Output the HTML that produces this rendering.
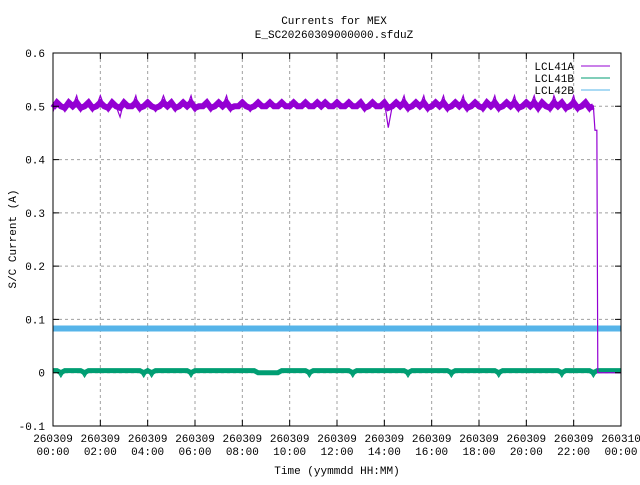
<!DOCTYPE html>
<html><head><meta charset="utf-8"><style>
body{margin:0;background:#fff}
svg text{font-family:"Liberation Mono","DejaVu Sans Mono",monospace;font-size:11px;fill:#000}
</style></head><body>
<svg id="c" width="640" height="480" xmlns="http://www.w3.org/2000/svg">
<rect width="640" height="480" fill="#fff"/>
<text x="334" y="24" text-anchor="middle">Currents for MEX</text>
<text x="334" y="38" text-anchor="middle">E_SC20260309000000.sfduZ</text>
<text x="0" y="0" transform="translate(16,239) rotate(-90)" text-anchor="middle">S/C Current (A)</text>
<text x="337" y="474" text-anchor="middle">Time (yymmdd HH:MM)</text>
<g id="grid"></g><g id="series"></g><g id="axes"></g>
<g>
<text x="574" y="70" text-anchor="end">LCL41A</text>
<line x1="581" y1="66" x2="610" y2="66" stroke="#9400d3"/>
<text x="574" y="82" text-anchor="end">LCL41B</text>
<line x1="581" y1="78" x2="610" y2="78" stroke="#009e73"/>
<text x="574" y="94" text-anchor="end">LCL42B</text>
<line x1="581" y1="90" x2="610" y2="90" stroke="#56b4e9"/>
</g>
</svg>
<script>
const yTicks=[-0.1,0,0.1,0.2,0.3,0.4,0.5,0.6];
const yTickLabels=["-0.1","0","0.1","0.2","0.3","0.4","0.5","0.6"];
const xTicks=[0,2,4,6,8,10,12,14,16,18,20,22,24];
const xTickLabels1=["260309","260309","260309","260309","260309","260309","260309","260309","260309","260309","260309","260309","260310"];
const xTickLabels2=["00:00","02:00","04:00","06:00","08:00","10:00","12:00","14:00","16:00","18:00","20:00","22:00","00:00"];
// LCL41A sampled every 10 minutes, 00:00 - 23:00
const lcl41a=[0.49,0.51,0.50,0.49,0.51,0.50,0.52,0.49,0.50,0.51,0.49,0.50,0.52,0.50,0.49,0.51,0.50,0.48,0.51,0.50,0.50,0.52,0.49,0.50,
0.51,0.50,0.49,0.50,0.52,0.50,0.51,0.49,0.50,0.51,0.50,0.52,0.49,0.50,0.50,0.51,0.49,0.50,0.51,0.50,0.52,0.49,0.50,0.50,
0.51,0.50,0.49,0.50,0.51,0.50,0.50,0.51,0.50,0.50,0.51,0.50,0.50,0.51,0.50,0.50,0.51,0.50,0.50,0.51,0.50,0.51,0.50,0.50,
0.51,0.50,0.50,0.51,0.50,0.50,0.51,0.49,0.50,0.51,0.50,0.50,0.51,0.46,0.50,0.51,0.50,0.52,0.49,0.50,0.51,0.50,0.52,0.49,
0.50,0.51,0.50,0.52,0.49,0.50,0.51,0.50,0.52,0.49,0.50,0.51,0.50,0.49,0.51,0.50,0.52,0.49,0.50,0.51,0.50,0.52,0.49,0.50,
0.51,0.50,0.52,0.49,0.51,0.50,0.49,0.52,0.50,0.51,0.49,0.50,0.52,0.49,0.50,0.51,0.49,0.50,0.455,0.455,0.0];
const lcl41aTimes=lcl41a.map((v,i)=>i<138?i/6:(i===138?22.9:(i===139?22.98:23.02)));
const lcl41b=[0.004,0.004,-0.008,0.004,0.004,0.004,0.004,0.004,-0.008,0.004,0.004,0.004,0.004,0.004,0.004,0.004,0.004,0.004,0.004,0.004,0.004,0.004,0.004,-0.008,
0.004,-0.008,0.004,0.004,0.004,0.004,0.004,0.004,0.004,0.004,0.004,-0.008,0.004,0.004,0.004,0.004,0.004,0.004,0.004,0.004,0.004,0.004,0.004,0.004,
0.004,0.004,0.004,0.004,0.0,0.0,0.0,0.0,0.0,0.0,0.004,0.004,0.004,0.004,0.004,0.004,0.004,-0.008,0.004,0.004,0.004,0.004,0.004,0.004,
0.004,0.004,0.004,0.004,-0.008,0.004,0.004,0.004,0.004,0.004,0.004,0.004,0.004,0.004,0.004,0.004,0.004,0.004,-0.008,0.004,0.004,0.004,0.004,0.004,
0.004,0.004,0.004,0.004,0.004,-0.008,0.004,0.004,0.004,0.004,0.004,0.004,0.004,0.004,0.004,0.004,0.004,-0.008,0.004,0.004,0.004,0.004,0.004,0.004,
0.004,0.004,0.004,0.004,0.004,0.004,0.004,0.004,0.004,-0.008,0.004,0.004,0.004,0.004,0.004,0.004,0.004,-0.008,0.004,0.004,0.004,0.004,0.004,0.004,0.004];
const lcl42b=[0.083,0.083,0.083,0.083,0.083,0.083,0.083,0.083,0.083,0.083,0.083,0.083,0.083];
const lcl42bTimes=[0,2,4,6,8,10,12,14,16,18,20,22,24];
const NS="http://www.w3.org/2000/svg";
const L=53,R=621,T=53,B=426;
const X=h=>L+(R-L)*h/24;
const Y=v=>B-(B-T)*(v+0.1)/0.7;
const clamp=(v,a,b)=>Math.max(a,Math.min(b,v));
function mk(tag,attrs,parent){const e=document.createElementNS(NS,tag);for(const k in attrs)e.setAttribute(k,attrs[k]);parent.appendChild(e);return e;}
const grid=document.getElementById('grid'),axes=document.getElementById('axes'),ser=document.getElementById('series');
yTicks.forEach((v,i)=>{
  if(i>0&&i<yTicks.length-1){const g=mk('line',{x1:L,x2:R,y1:Y(v),y2:Y(v),stroke:'#a0a0a0','stroke-dasharray':'3,3'},grid);
  
  }
  const tk=mk('path',{d:`M${L},${Y(v)}h6M${R},${Y(v)}h-6`,stroke:'#000'},axes);
  
  
  const t=mk('text',{x:L-8,y:Y(v)+4,'text-anchor':'end'},axes);t.textContent=yTickLabels[i];
  
  
});
xTicks.forEach((h,i)=>{
  if(i>0&&i<xTicks.length-1){const g=mk('line',{x1:X(h),x2:X(h),y1:T,y2:B,stroke:'#a0a0a0','stroke-dasharray':'3,3'},grid);
  
  }
  const tk=mk('path',{d:`M${X(h)},${B}v-6M${X(h)},${T}v6`,stroke:'#000'},axes);
  
  
  const t1=mk('text',{x:X(h),y:442,'text-anchor':'middle'},axes);t1.textContent=xTickLabels1[i];
  
  
  const t2=mk('text',{x:X(h),y:455,'text-anchor':'middle'},axes);t2.textContent=xTickLabels2[i];
  
  
});
const fr=mk('rect',{x:L,y:T,width:R-L,height:B-T,fill:'none',stroke:'#000'},axes);


const p42=mk('polyline',{points:lcl42b.map((v,i)=>X(lcl42bTimes[i])+','+Y(v)).join(' '),fill:'none',stroke:'#56b4e9','stroke-width':6},ser);


const bT=lcl41b.map((v,i)=>Math.min(24,i/6));
const p41bBand=mk('polyline',{points:lcl41b.map((v,i)=>X(bT[i])+','+Y(clamp(v,0.0,0.004))).join(' '),fill:'none',stroke:'#009e73','stroke-width':5},ser);


const p41b=mk('polyline',{points:lcl41b.map((v,i)=>X(bT[i])+','+Y(v)).join(' '),fill:'none',stroke:'#009e73','stroke-width':1.2},ser);


const bandPts=[];lcl41a.forEach((v,i)=>{if(i<138)bandPts.push(X(lcl41aTimes[i])+','+Y(clamp(v,0.497,0.507)));});
const p41aBand=mk('polyline',{points:bandPts.join(' '),fill:'none',stroke:'#9400d3','stroke-width':6},ser);


let pts=[];lcl41a.forEach((v,i)=>{pts.push(X(lcl41aTimes[i])+','+Y(v));});
pts.push(X(24)+','+Y(0));
const p41a=mk('polyline',{points:pts.join(' '),fill:'none',stroke:'#9400d3','stroke-width':1.2},ser);


</script>
</body></html>
